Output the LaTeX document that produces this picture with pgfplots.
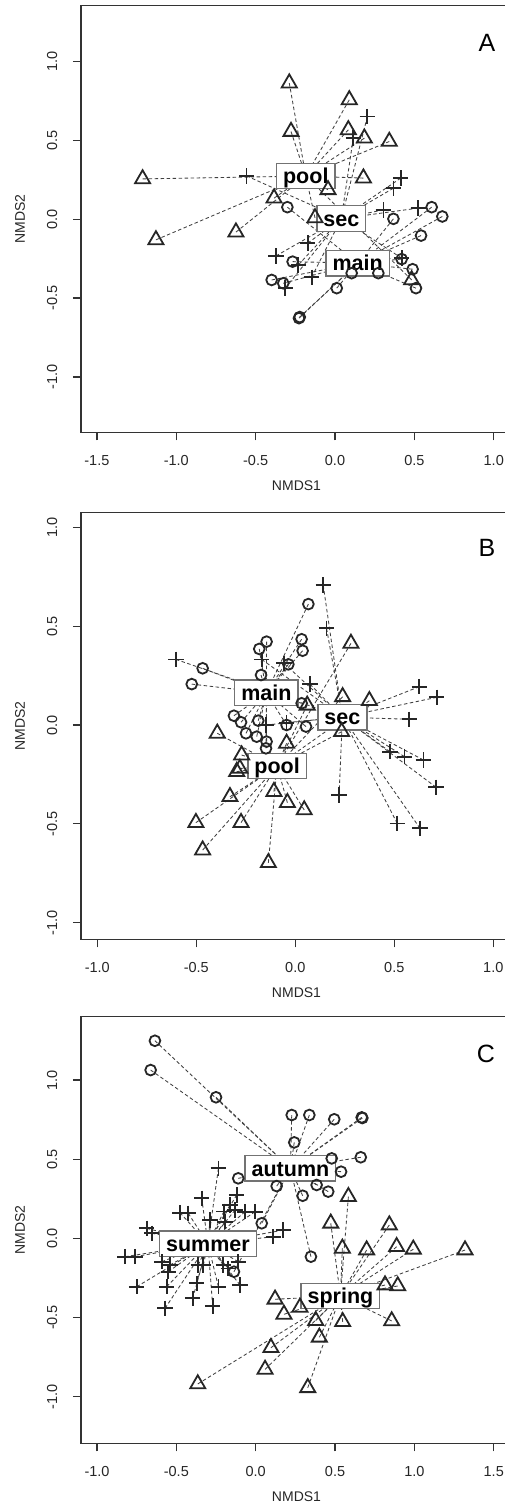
\documentclass[border=0pt]{standalone}
\usepackage{fontspec}
\setmainfont{Liberation Sans}
\usepackage{pgfplots}
\usepackage{pgfplotstable}
\pgfplotsset{compat=1.18}

% ---- panel A ----
\pgfplotstableread{
x y
-0.288 0.862
-0.277 0.555
0.090 0.756
0.084 0.566
0.185 0.513
0.342 0.492
-1.212 0.255
0.179 0.260
-0.384 0.133
-1.128 -0.131
-0.624 -0.082
-0.044 0.186
-0.126 0.008
0.483 -0.385
}\Apool
\pgfplotstableread{
x y
-0.557 0.274
0.204 0.650
0.115 0.513
0.414 0.260
0.368 0.196
0.305 0.059
0.525 0.070
-0.172 -0.152
-0.372 -0.233
-0.231 -0.290
-0.147 -0.368
-0.313 -0.437
0.420 -0.247
}\Asec
\pgfplotstableread{
x y
-0.300 0.076
0.368 0.002
0.609 0.076
0.676 0.017
0.542 -0.104
-0.267 -0.269
-0.399 -0.385
-0.326 -0.406
0.011 -0.437
-0.227 -0.627
-0.222 -0.620
0.420 -0.253
0.489 -0.317
0.510 -0.437
0.105 -0.342
0.273 -0.342
}\Amain

% ---- panel B ----
\pgfplotstableread{
x y
0.066 0.612
-0.145 0.422
-0.182 0.385
0.032 0.434
0.037 0.376
-0.468 0.287
-0.523 0.207
-0.035 0.307
-0.173 0.253
-0.310 0.047
-0.274 0.014
-0.187 0.022
-0.249 -0.042
-0.195 -0.059
-0.145 -0.084
-0.148 -0.118
-0.044 0.000
0.054 -0.008
0.032 0.110
}\Bmain
\pgfplotstableread{
x y
0.141 0.708
0.158 0.489
-0.603 0.332
-0.170 0.332
-0.057 0.312
0.074 0.207
0.626 0.194
0.714 0.140
0.576 0.029
-0.044 0.012
-0.148 0.000
0.478 -0.135
0.551 -0.160
0.647 -0.177
0.711 -0.315
0.221 -0.354
0.515 -0.498
0.630 -0.523
}\Bsec
\pgfplotstableread{
x y
0.281 0.413
0.239 0.143
0.374 0.123
0.060 0.100
-0.394 -0.042
-0.044 -0.093
-0.271 -0.152
-0.296 -0.236
-0.280 -0.220
-0.330 -0.363
-0.108 -0.337
-0.040 -0.393
0.045 -0.430
-0.502 -0.494
-0.274 -0.494
-0.468 -0.633
-0.136 -0.697
0.234 -0.034
}\Bpool

% ---- panel C ----
\pgfplotstableread{
x y
-0.635 1.248
-0.662 1.063
-0.250 0.891
0.227 0.779
0.338 0.779
0.495 0.752
0.668 0.764
0.672 0.760
0.243 0.606
0.662 0.512
0.479 0.505
0.538 0.421
-0.110 0.379
0.132 0.330
0.384 0.337
0.457 0.295
0.296 0.269
0.038 0.095
0.348 -0.116
-0.137 -0.211
}\Cautumn
\pgfplotstableread{
x y
0.584 0.263
0.473 0.095
0.842 0.084
0.546 -0.063
0.699 -0.074
0.888 -0.053
0.993 -0.069
1.319 -0.074
0.815 -0.295
0.895 -0.301
0.122 -0.385
0.178 -0.480
0.378 -0.520
0.548 -0.527
0.857 -0.522
0.401 -0.625
0.096 -0.691
0.059 -0.828
-0.365 -0.920
0.328 -0.944
0.279 -0.436
}\Cspring
\pgfplotstableread{
x y
-0.235 0.442
-0.120 0.274
-0.340 0.253
-0.477 0.162
-0.425 0.158
-0.288 0.116
-0.162 0.210
-0.130 0.179
-0.067 0.168
-0.004 0.168
-0.193 0.105
-0.200 0.170
-0.687 0.063
-0.655 0.032
0.174 0.052
0.111 0.010
-0.824 -0.116
-0.761 -0.116
-0.592 -0.148
-0.540 -0.169
-0.551 -0.211
-0.362 -0.169
-0.330 -0.169
-0.204 -0.169
-0.110 -0.148
-0.750 -0.306
-0.561 -0.306
-0.372 -0.284
-0.235 -0.306
-0.099 -0.295
-0.571 -0.442
-0.397 -0.379
-0.271 -0.428
-0.173 -0.190
}\Csummer

\pgfplotsset{
  panel/.style={
    scale only axis, width=431pt, height=426.6pt, clip=false,
    axis line style={black!80, line width=1.3pt},
    major tick style={black!80, line width=1.3pt},
    tick align=outside, major tick length=8pt,
    xtick pos=left, ytick pos=left,
    xticklabel={\pgfmathprintnumber[fixed,fixed zerofill,precision=1,assume math mode=true]{\tick}},
    yticklabel={\pgfmathprintnumber[fixed,fixed zerofill,precision=1,assume math mode=true]{\tick}},
    tick label style={font=\fontsize{14.5}{16}\selectfont, text=black!85},
    xticklabel style={anchor=north, inner sep=0pt},
    yticklabel style={rotate=90, anchor=south, inner sep=0pt},
    xticklabel shift=14.7pt, yticklabel shift=15.5pt,
    label style={font=\fontsize{14}{16}\selectfont, text=black!85},
    xlabel={NMDS1}, ylabel={NMDS2},
    xlabel style={at={(axis description cs:0.5,-0.1243)}, anchor=center},
    ylabel style={at={(axis description cs:-0.1415,0.5)}, anchor=center},
    ytick={-1,-0.5,0,0.5,1},
  },
  spoke/.style={black!75, line width=0.85pt, dash pattern=on 3.5pt off 2.5pt, no markers, forget plot},
  circ/.style={only marks, mark=o, mark size=5.4pt, mark options={line width=1.8pt, black!85}},
  tri/.style={only marks, mark=triangle, mark size=8.7pt, mark options={line width=1.8pt, black!85}},
  plus/.style={only marks, mark=+, mark size=7.7pt, mark options={line width=1.8pt, black!85}},
}
\tikzset{lab/.style={fill=white, draw=black!55, line width=1.3pt,
  font=\bfseries\fontsize{21.5}{24}\selectfont, inner xsep=6.5pt, inner ysep=5pt,
  text height=15.5pt, text depth=0pt},
  topline/.style={black!80, line width=1.3pt}}

\begin{document}
\begin{tikzpicture}
\useasboundingbox (0pt,0pt) rectangle (505pt,-1505pt);

% A
\begin{axis}[panel, at={(81pt,-432.3pt)},
  xmin=-1.600, xmax=1.115, ymin=-1.350, ymax=1.352,
  xtick={-1.5,-1,-0.5,0,0.5,1}]
\addplot[spoke, quiver={u=-0.184-\thisrow{x}, v=0.273-\thisrow{y}}] table {\Apool};
\addplot[spoke, quiver={u=0.040-\thisrow{x}, v=0.004-\thisrow{y}}] table {\Asec};
\addplot[spoke, quiver={u=0.143-\thisrow{x}, v=-0.279-\thisrow{y}}] table {\Amain};
\addplot[tri] table {\Apool};
\addplot[plus] table {\Asec};
\addplot[circ] table {\Amain};
\node[lab] at (axis cs:-0.184,0.273) {pool};
\node[lab] at (axis cs:0.040,0.004) {sec};
\node[lab] at (axis cs:0.143,-0.279) {main};
\draw[topline] (rel axis cs:0,1) -- (rel axis cs:1,1);
\end{axis}

% B
\begin{axis}[panel, at={(81pt,-939.3pt)},
  xmin=-1.0823, xmax=1.0944, ymin=-1.0845, ymax=1.0744,
  xtick={-1,-0.5,0,0.5,1}]
\addplot[spoke, quiver={u=-0.146-\thisrow{x}, v=0.163-\thisrow{y}}] table {\Bmain};
\addplot[spoke, quiver={u=0.238-\thisrow{x}, v=0.040-\thisrow{y}}] table {\Bsec};
\addplot[spoke, quiver={u=-0.092-\thisrow{x}, v=-0.207-\thisrow{y}}] table {\Bpool};
\addplot[circ] table {\Bmain};
\addplot[plus] table {\Bsec};
\addplot[tri] table {\Bpool};
\node[lab] at (axis cs:-0.146,0.163) {main};
\node[lab] at (axis cs:0.238,0.040) {sec};
\node[lab] at (axis cs:-0.092,-0.207) {pool};
\draw[topline] (rel axis cs:0,1) -- (rel axis cs:1,1);
\end{axis}

% C
\begin{axis}[panel, at={(81pt,-1443.3pt)},
  xmin=-1.1008, xmax=1.615, ymin=-1.295, ymax=1.400,
  xtick={-1,-0.5,0,0.5,1,1.5}]
\addplot[spoke, quiver={u=0.219-\thisrow{x}, v=0.442-\thisrow{y}}] table {\Cautumn};
\addplot[spoke, quiver={u=0.534-\thisrow{x}, v=-0.364-\thisrow{y}}] table {\Cspring};
\addplot[spoke, quiver={u=-0.301-\thisrow{x}, v=-0.034-\thisrow{y}}] table {\Csummer};
\addplot[circ] table {\Cautumn};
\addplot[tri] table {\Cspring};
\addplot[plus] table {\Csummer};
\node[lab] at (axis cs:0.219,0.442) {autumn};
\node[lab] at (axis cs:-0.301,-0.034) {summer};
\node[lab] at (axis cs:0.534,-0.364) {spring};
\draw[topline] (rel axis cs:0,1) -- (rel axis cs:1,1);
\end{axis}

\node[font=\fontsize{25}{28}\selectfont] at (487pt,-43pt) {A};
\node[font=\fontsize{25}{28}\selectfont] at (487pt,-548pt) {B};
\node[font=\fontsize{25}{28}\selectfont] at (486pt,-1054pt) {C};
\end{tikzpicture}
\end{document}
